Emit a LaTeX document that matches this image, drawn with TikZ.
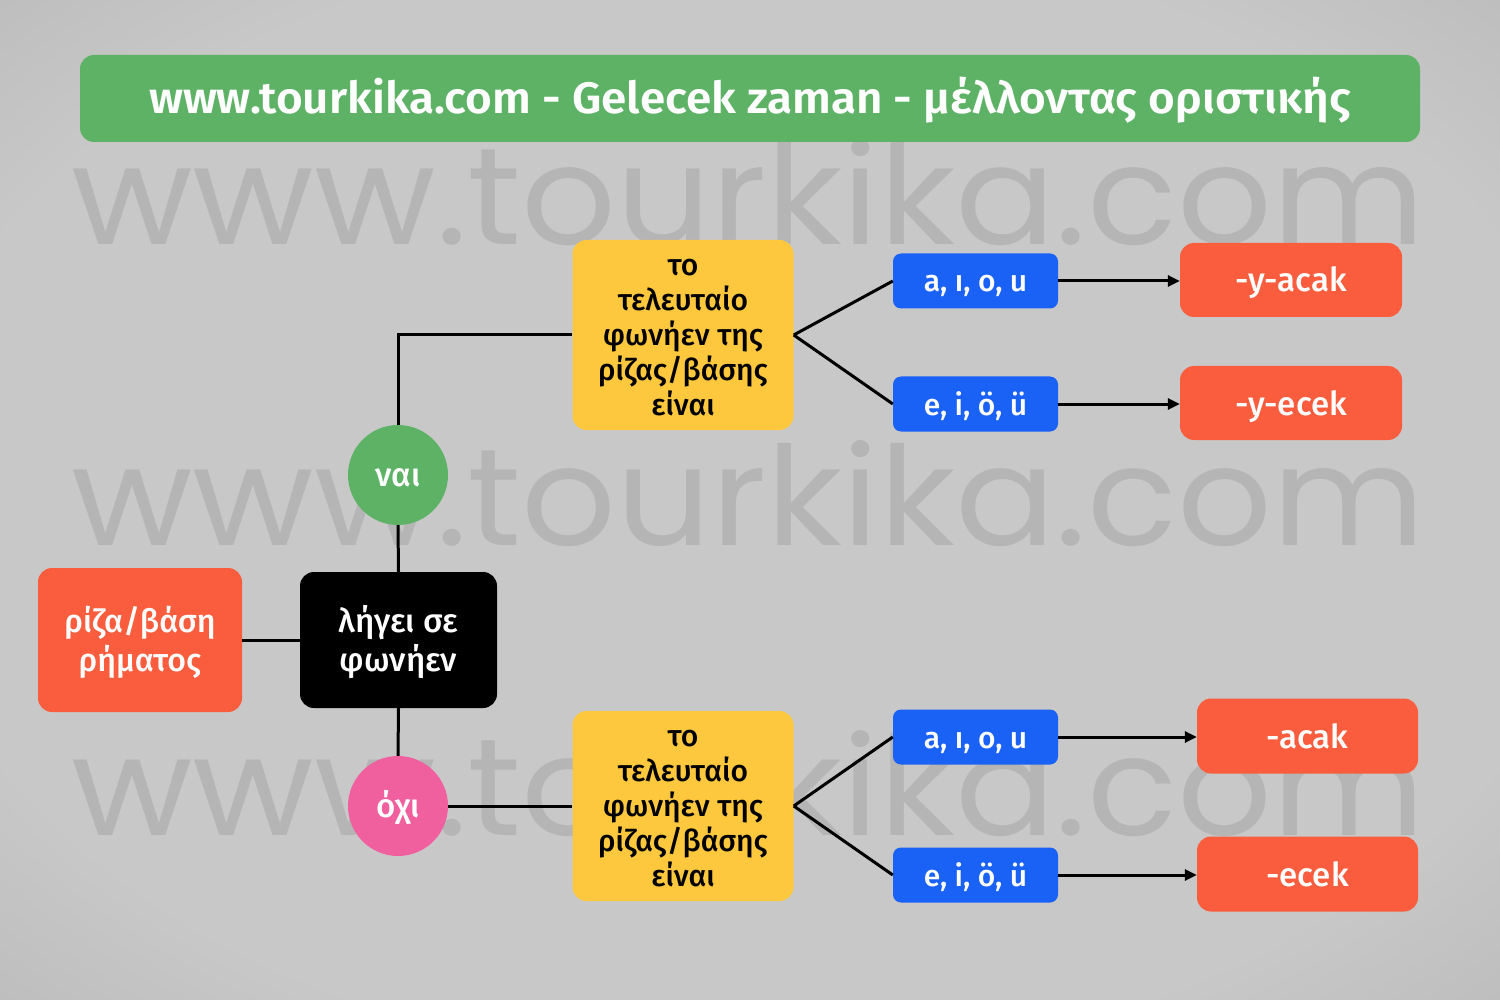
\documentclass[tikz,border=0pt]{standalone}
\usepackage{fontspec}
\setmainfont{Fira Sans}
\newfontfamily\boxfont{Fira Sans Medium}
\newfontfamily\titlefont{Fira Sans SemiBold}
\newfontfamily\wmfont{Poppins}
\usetikzlibrary{arrows.meta}
\definecolor{bgin}{RGB}{200,200,200}
\definecolor{bgmid}{RGB}{170,170,170}
\definecolor{bgout}{RGB}{110,110,110}
\definecolor{tgreen}{RGB}{94,178,102}
\definecolor{tred}{RGB}{250,93,61}
\definecolor{tyellow}{RGB}{254,200,62}
\definecolor{tblue}{RGB}{26,98,245}
\definecolor{tpink}{RGB}{240,96,158}
\pgfdeclareradialshading{vign}{\pgfpoint{0bp}{0bp}}{color(0bp)=(bgin); color(28bp)=(bgin); color(50bp)=(bgmid); color(71bp)=(bgout)}
\newcommand{\cardlines}[1]{\raisebox{-4pt}[\height][\depth]{\begin{tabular}{@{}c@{}}#1\end{tabular}}}
\tikzset{
  card/.style={rounded corners=14pt, inner sep=0pt, align=center, text=white},
  redcard/.style={card, fill=tred},
  blackcard/.style={card, fill=black},
  yellowcard/.style={card, fill=tyellow, text=black, minimum width=221pt, minimum height=190pt,
     font=\boxfont\fontsize{30}{34.5}\selectfont},
  bluecard/.style={rounded corners=8pt, inner sep=0pt, fill=tblue, text=white, minimum width=165pt, minimum height=55pt,
     font=\boxfont\fontsize{30}{36}\selectfont, text height=28pt, text depth=6pt},
  resultcard/.style={redcard, minimum width=222pt, minimum height=74pt, font=\boxfont\fontsize{33}{38}\selectfont,
     text height=30pt, text depth=6pt},
  answer/.style={circle, inner sep=0pt, minimum size=100pt, text=white, font=\boxfont\fontsize{33}{38}\selectfont,
     text height=29pt, text depth=6pt},
  link/.style={line width=3pt, black},
  arrowlink/.style={link, -{Triangle[length=12pt,width=11pt]}},
  watermark/.style={font=\wmfont\fontsize{138}{138}\selectfont, text=black, opacity=0.09, anchor=base, inner sep=0pt, xscale=1.075}
}
\begin{document}
\begin{tikzpicture}[x=1pt,y=-1pt]
\useasboundingbox (0,0) rectangle (1500,1000);
\shade[shading=vign] (0,0) rectangle (1500,1000);
% watermarks
\node[watermark] (wm1) at (748,245) {www.tourkika.com};
\node[watermark] (wm2) at (748,545) {www.tourkika.com};
\node[watermark] (wm3) at (748,835) {www.tourkika.com};
% title
\node[card, fill=tgreen, minimum width=1340pt, minimum height=87pt, font=\titlefont\fontsize{44}{50}\selectfont] (title) at (750,98.5)
  {\raisebox{-2pt}[\height][\depth]{\scalebox{1.04}[1]{www.tourkika.com - Gelecek zaman - μέλλοντας οριστικής}}};
% main nodes
\node[redcard, minimum width=204pt, minimum height=144pt, font=\boxfont\fontsize{32}{39}\selectfont] (root) at (140,640) {\cardlines{ρίζα/βάση\\ρήματος}};
\node[blackcard, minimum width=197pt, minimum height=136pt, font=\boxfont\fontsize{33}{38}\selectfont] (ends) at (398.5,640) {\cardlines{λήγει σε\\φωνήεν}};
\node[answer, fill=tgreen] (yes) at (398,475) {ναι};
\node[answer, fill=tpink] (no) at (398,806) {όχι};
\node[yellowcard] (ylast) at (683,335) {\cardlines{το\\τελευταίο\\φωνήεν της\\ρίζας/βάσης\\είναι}};
\node[yellowcard] (nlast) at (683,806) {\cardlines{το\\τελευταίο\\φωνήεν της\\ρίζας/βάσης\\είναι}};
\node[bluecard] (yback) at (975.5,281) {a, ı, o, u};
\node[bluecard] (yfront) at (975.5,404) {e, i, ö, ü};
\node[bluecard] (nback) at (975.5,737) {a, ı, o, u};
\node[bluecard] (nfront) at (975.5,875) {e, i, ö, ü};
\node[resultcard] (yacak) at (1291,280) {-y-acak};
\node[resultcard] (yecek) at (1291,403) {-y-ecek};
\node[resultcard, minimum width=221pt, minimum height=75pt] (acak) at (1307.5,736) {-acak};
\node[resultcard, minimum width=221pt, minimum height=75pt] (ecek) at (1307.5,874) {-ecek};
% connectors
\draw[link] (root.east) -- (ends.west);
\draw[link] (ends.north) -- (yes.south);
\draw[link] (yes.north) |- (ylast.west);
\draw[link] (ends.south) -- (no.north);
\draw[link] (no.east) -- (nlast.west);
\draw[link] (ylast.east) -- (yback.west);
\draw[link] (ylast.east) -- (yfront.west);
\draw[link] (nlast.east) -- (nback.west);
\draw[link] (nlast.east) -- (nfront.west);
\draw[arrowlink] (yback.east) -- (yback.east -| yacak.west);
\draw[arrowlink] (yfront.east) -- (yfront.east -| yecek.west);
\draw[arrowlink] (nback.east) -- (nback.east -| acak.west);
\draw[arrowlink] (nfront.east) -- (nfront.east -| ecek.west);
\end{tikzpicture}
\end{document}
